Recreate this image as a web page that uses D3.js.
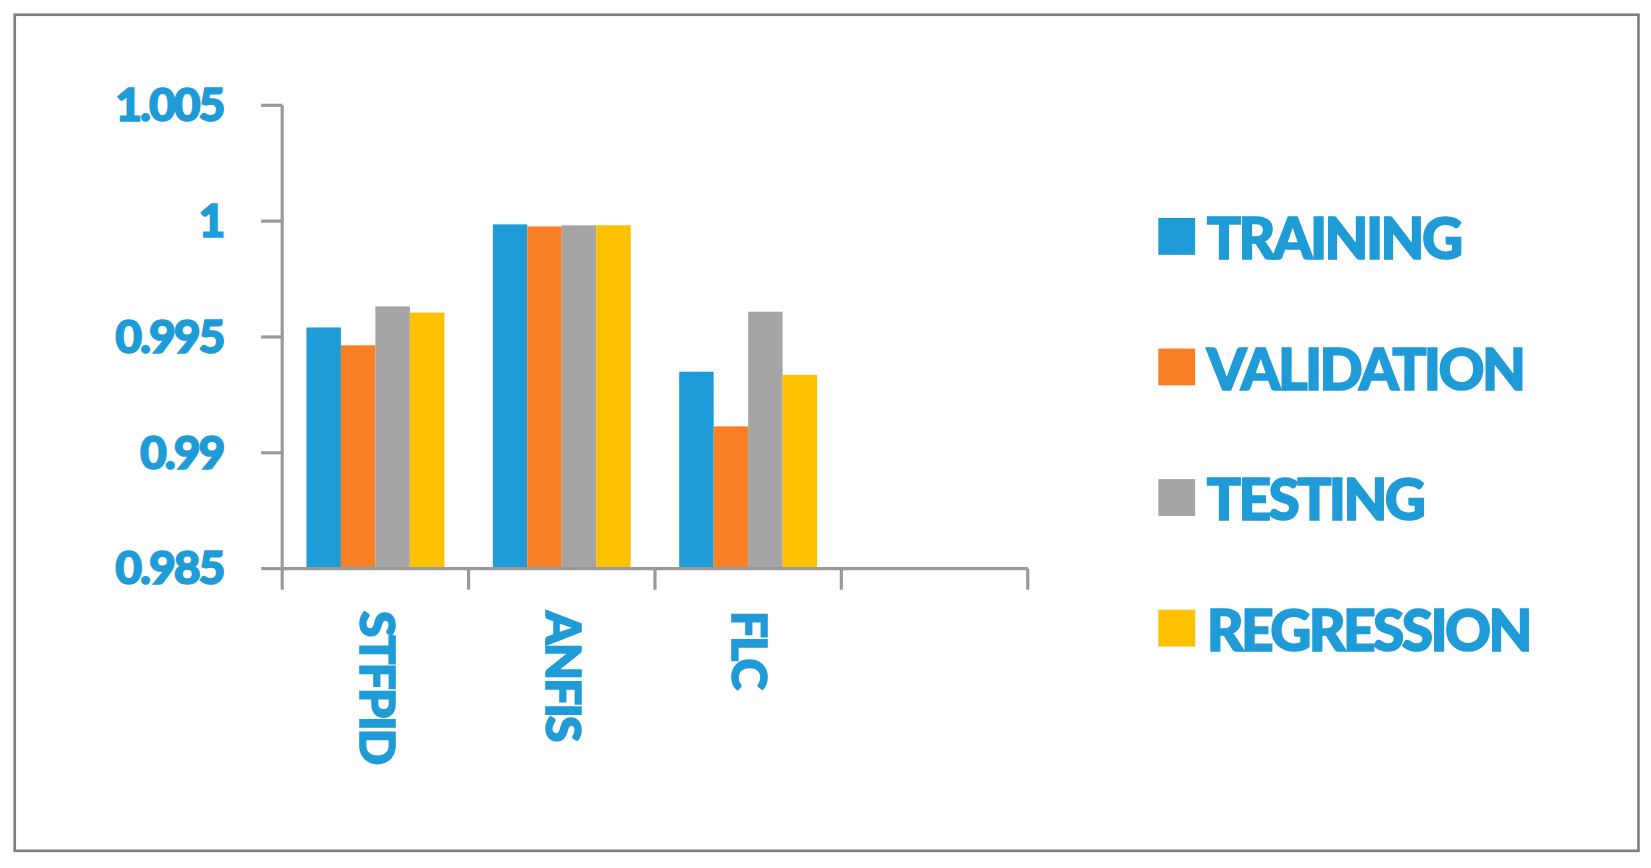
<!DOCTYPE html>
<html><head><meta charset="utf-8">
<script src="https://cdn.jsdelivr.net/npm/d3@7/dist/d3.min.js"></script>
<style>body{margin:0;background:#fff}</style></head>
<body><svg id="c" width="1651" height="868"></svg>
<script>
const categories = ["STFPID","ANFIS","FLC",""];
const seriesNames = ["TRAINING","VALIDATION","TESTING","REGRESSION"];
const training   = [0.99541, 0.99986, 0.99350, null];
const validation = [0.99464, 0.99977, 0.99114, null];
const testing    = [0.99632, 0.99982, 0.99609, null];
const regression = [0.99605, 0.99982, 0.99336, null];
const yTicks = [0.985, 0.99, 0.995, 1, 1.005];
const yTickLabels = ["0.985","0.99","0.995","1","1.005"];
const colors = ["#1f9bd7","#f97f27","#a5a5a5","#ffc000"];
const series = [training, validation, testing, regression];

const svg0 = d3.select("#c");
const svg = svg0.append("g").attr("transform","scale(1.053)");
const blue = "#1f9bd7";
const font = "Lato, 'Open Sans', sans-serif";
svg.append("rect").attr("x",14).attr("y",14).attr("width",1542).attr("height",794)
  .attr("fill","#fff").attr("stroke","#7f7f7f").attr("stroke-width",2.5);

const x0 = d3.scaleBand().domain(categories).range([268,976]).paddingInner(0.26).paddingOuter(0.13);
const xTick = d3.scaleLinear().domain([0,4]).range([268,976]);
const x1 = d3.scaleBand().domain(seriesNames).range([0,x0.bandwidth()]);
const y = d3.scaleLinear().domain([0.985,1.005]).range([540,100]);

categories.forEach((c,i)=>{
  series.forEach((s,j)=>{
    if(s[i]==null) return;
    svg.append("rect").attr("x",x0(c)+x1(seriesNames[j])).attr("width",x1.bandwidth())
      .attr("y",y(s[i])).attr("height",y(0.985)-y(s[i])).attr("fill",colors[j]);
  });
});

const ax = "#999";
svg.append("line").attr("x1",268).attr("x2",268).attr("y1",y(1.005)).attr("y2",540).attr("stroke",ax).attr("stroke-width",3);
yTicks.forEach((t,i)=>{
  svg.append("line").attr("x1",248).attr("x2",268).attr("y1",y(t)).attr("y2",y(t)).attr("stroke",ax).attr("stroke-width",3);
  svg.append("text").attr("x",212).attr("y",y(t)+15).attr("text-anchor","end")
    .attr("font-family",font).attr("font-weight",900).attr("font-size",44).attr("letter-spacing",-2)
    .attr("fill",blue).attr("stroke",blue).attr("stroke-width",1.5).text(yTickLabels[i]);
});
svg.append("line").attr("x1",268).attr("x2",976).attr("y1",540).attr("y2",540).attr("stroke",ax).attr("stroke-width",3);
d3.range(5).forEach(k=>{
  svg.append("line").attr("x1",xTick(k)).attr("x2",xTick(k)).attr("y1",540).attr("y2",560).attr("stroke",ax).attr("stroke-width",3);
});
categories.forEach(c=>{
  if(!c) return;
  const cx = x0(c)+x0.bandwidth()/2;
  svg.append("text").attr("transform",`translate(${cx-15},580) rotate(90)`)
    .attr("font-family",font).attr("font-weight",900).attr("font-size",46).attr("letter-spacing",-2)
    .attr("fill",blue).attr("stroke",blue).attr("stroke-width",1.5).text(c);
});
seriesNames.forEach((n,i)=>{
  const ly = 224 + i*124;
  svg.append("rect").attr("x",1100).attr("y",ly-17).attr("width",35).attr("height",35).attr("fill",colors[i]);
  svg.append("text").attr("x",1146).attr("y",ly+22).attr("font-family",font).attr("font-weight",900)
    .attr("font-size",54).attr("letter-spacing",-2.5).attr("fill",blue).attr("stroke",blue).attr("stroke-width",1.5).text(n);
});
</script></body></html>
